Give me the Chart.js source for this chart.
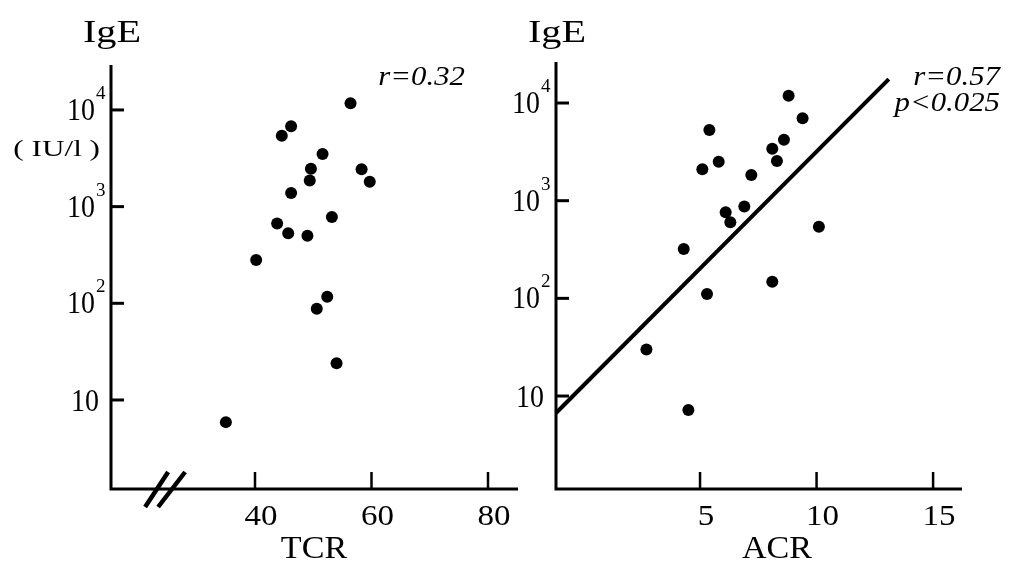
<!DOCTYPE html>
<html>
<head>
<meta charset="utf-8">
<script src="https://cdn.jsdelivr.net/npm/chart.js@4.4.1/dist/chart.umd.min.js"></script>
<style>
  body { margin: 0; background: #fff; }
  #wrap { position: relative; width: 1009px; height: 567px; overflow: hidden; }
  canvas { position: absolute; top: 0; }
  #left { left: 0; }
  #right { left: 490px; }
</style>
</head>
<body>
<div id="wrap">
  <canvas id="left" width="530" height="567"></canvas>
  <canvas id="right" width="519" height="567"></canvas>
</div>
<script>
// values
const tcr = [56.4, 46.2, 44.6, 51.6, 49.6, 49.4, 58.3, 59.7, 46.2, 53.2, 43.8, 45.7, 49.0, 40.2, 52.4, 50.6, 54.0, 35.0]
const igeTcr = [11700, 6800, 5400, 3500, 2470, 1860, 2440, 1810, 1380, 780, 670, 530, 500, 280, 117, 88, 24, 5.9]

const acr = [8.8, 9.4, 5.4, 8.6, 8.1, 5.8, 8.3, 5.1, 7.2, 6.1, 6.9, 6.3, 10.1, 4.3, 8.1, 5.3, 2.7, 4.5]
const igeAcr = [11900, 7000, 5300, 4200, 3400, 2500, 2550, 2100, 1830, 760, 870, 600, 540, 320, 148, 111, 30, 7.2]

// regression line ends (ACR panel)
const fitAcr = [-1.18, 13.1]
const fitIge = [6.7, 17600]

const yTicks = [10, 100, 1000, 10000]
const tcrTicks = [40, 60, 80]
const acrTicks = [5, 10, 15]

const FONT = '"Liberation Serif", "Times New Roman", serif'

function txt(ctx, s, x, y, size, o) {
    o = o || {}
    ctx.save()
    ctx.font = (o.italic ? 'italic ' : '') + size + 'px ' + FONT
    ctx.textAlign = o.align || 'center'
    ctx.textBaseline = o.base || 'alphabetic'
    ctx.fillStyle = '#000'
    ctx.translate(x, y)
    ctx.scale(o.sx || 1, 1)
    ctx.fillText(s, 0, 0)
    ctx.restore()
}

const frame = {
    id: 'frame',
    afterDraw(chart, args, o) {
        const ctx = chart.ctx
        const xs = chart.scales.x, ys = chart.scales.y
        const L = chart.chartArea.left, R = chart.chartArea.right
        const T = chart.chartArea.top, B = chart.chartArea.bottom
        ctx.save()
        ctx.strokeStyle = '#000'
        ctx.lineCap = 'butt'

        // axes
        ctx.lineWidth = 3
        ctx.beginPath()
        ctx.moveTo(L, T)
        ctx.lineTo(L, B)
        ctx.lineTo(R, B)
        ctx.stroke()

        // y ticks (inward) and labels 10^n
        yTicks.forEach(v => {
            const y = ys.getPixelForValue(v)
            ctx.lineWidth = 3
            ctx.beginPath()
            ctx.moveTo(L, y)
            ctx.lineTo(L + 13, y)
            ctx.stroke()
            const e = Math.round(Math.log10(v))
            if (e === 1) {
                txt(ctx, '10', L - 12, y + 3, 31, { align: 'right', base: 'middle', sx: 0.9 })
            } else {
                txt(ctx, '10', L - 16, y + 2, 31, { align: 'right', base: 'middle', sx: 0.9 })
                txt(ctx, String(e), L - 15, y - 11, 19, { align: 'left' })
            }
        })

        // x ticks (inward) and labels
        o.xTicks.forEach(v => {
            const x = xs.getPixelForValue(v)
            ctx.lineWidth = 2.5
            ctx.beginPath()
            ctx.moveTo(x, B)
            ctx.lineTo(x, B - 17)
            ctx.stroke()
            txt(ctx, String(v), x + 6, B + 36, 30, { sx: 1.1 })
        })

        // axis break
        if (o.breakAt !== undefined) {
            const cx = xs.getPixelForValue(o.breakAt)
            ctx.lineWidth = 4.5
            ctx.beginPath()
            ctx.moveTo(cx - 19, B + 18)
            ctx.lineTo(cx + 4, B - 17)
            ctx.moveTo(cx - 6, B + 18)
            ctx.lineTo(cx + 21, B - 17)
            ctx.stroke()
        }

        // titles
        txt(ctx, 'IgE', L + 1, 42, 31, { sx: 1.3 })
        txt(ctx, o.xTitle, o.xTitleX, B + 69, 31, { sx: 1.1 })
        if (o.unit) txt(ctx, '( IU/l )', L - 11, 156, 24, { align: 'right', sx: 1.3 })

        // statistics
        o.stats.forEach((s, i) => {
            txt(ctx, s, o.statsX, 85 + i * 26, 28, { align: 'right', italic: true, sx: 1.1 })
        })
        ctx.restore()
    }
}

const dots = (xv, yv) => xv.map((x, i) => ({ x: x, y: yv[i] }))

const baseOptions = (pad, xmin, xmax, ymin, ymax, deco) => ({
    responsive: false,
    animation: false,
    layout: { padding: pad },
    plugins: { legend: { display: false }, tooltip: { enabled: false }, frame: deco },
    scales: {
        x: { type: 'linear', display: false, min: xmin, max: xmax },
        y: { type: 'logarithmic', display: false, min: ymin, max: ymax }
    }
})

new Chart(document.getElementById('left').getContext('2d'), {
    type: 'scatter',
    data: {
        datasets: [{
            data: dots(tcr, igeTcr),
            backgroundColor: '#000',
            borderWidth: 0,
            pointRadius: 6,
            clip: false
        }]
    },
    options: baseOptions(
        { left: 111, right: 12, top: 65, bottom: 78 },
        15.28, 85.15, 1.2, 29170,
        { xTicks: tcrTicks, breakAt: 24.4, xTitle: 'TCR', xTitleX: 314, unit: true,
          stats: ['r=0.32'], statsX: 465 }
    ),
    plugins: [frame]
})

new Chart(document.getElementById('right').getContext('2d'), {
    type: 'scatter',
    data: {
        datasets: [{
            data: dots(acr, igeAcr),
            backgroundColor: '#000',
            borderWidth: 0,
            pointRadius: 6,
            clip: false
        }, {
            data: dots(fitAcr, fitIge),
            showLine: true,
            borderColor: '#000',
            borderWidth: 4,
            pointRadius: 0,
            clip: false
        }]
    },
    options: baseOptions(
        { left: 66, right: 47, top: 62, bottom: 78 },
        -1.18, 16.24, 1.117, 26300,
        { xTicks: acrTicks, xTitle: 'ACR', xTitleX: 287, unit: false,
          stats: ['r=0.57', 'p<0.025'], statsX: 510 }
    ),
    plugins: [frame]
})
</script>
</body>
</html>
